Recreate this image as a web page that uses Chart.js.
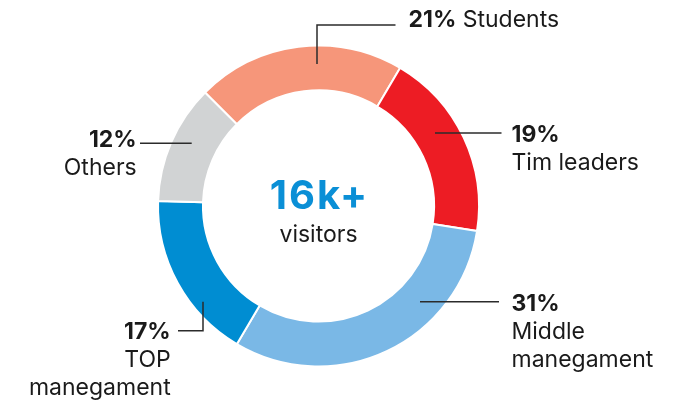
<!DOCTYPE html>
<html>
<head>
<meta charset="utf-8">
<script src="https://cdn.jsdelivr.net/npm/chart.js@4/dist/chart.umd.min.js"></script>
<style>
  html, body { margin: 0; padding: 0; background: #fff; }
  #wrap { width: 679px; height: 401px; position: relative; }
</style>
</head>
<body>
<div id="wrap"><canvas id="chart"></canvas></div>
<script>
const categories = ["Students", "Tim leaders", "Middle manegament", "TOP manegament", "Others"];
const shares = [21, 19, 31, 17, 12];
const labelLines = [
  ["Students"],
  ["Tim leaders"],
  ["Middle", "manegament"],
  ["TOP", "manegament"],
  ["Others"]
];
const centerValue = "16k+";
const centerCaption = "visitors";

const colors = ["#f6967a", "#ed1c24", "#7ab8e6", "#008dd2", "#d1d3d4"];

// leader lines + text, offsets from the ring centre
const layout = [
  { pts: [[-1.5, -142], [-1.5, -181], [77, -181]], x: 90, y: -179, align: "left", inline: true },
  { pts: [[116.5, -73], [183, -73]], x: 193, y: -63.7, align: "left" },
  { pts: [[101.5, 95.7], [180.5, 95.7]], x: 193, y: 104.7, align: "left" },
  { pts: [[-115.5, 95.7], [-115.5, 124.7], [-140.5, 124.7]], x: -147.8, y: 133, align: "right" },
  { pts: [[-126.8, -62.7], [-178.5, -62.7]], x: -181.8, y: -58.7, align: "right" }
];

const FONT = "Inter, 'Noto Sans', sans-serif";
const LINE_H = 28;

const labelsPlugin = {
  id: "labels",
  afterDraw(chart) {
    const ctx = chart.ctx;
    const arc = chart.getDatasetMeta(0).data[0];
    const cx = arc.x, cy = arc.y;
    ctx.save();
    ctx.strokeStyle = "#2b2b2b";
    ctx.lineWidth = 1.5;
    ctx.fillStyle = "#1a1a1a";
    ctx.textBaseline = "alphabetic";
    layout.forEach((l, i) => {
      ctx.beginPath();
      l.pts.forEach((p, j) => {
        if (j === 0) ctx.moveTo(cx + p[0], cy + p[1]);
        else ctx.lineTo(cx + p[0], cy + p[1]);
      });
      ctx.stroke();
      const pct = shares[i] + "%";
      const x = cx + l.x;
      let y = cy + l.y;
      if (l.inline) {
        ctx.textAlign = "left";
        ctx.font = "bold 23px " + FONT;
        ctx.fillText(pct, x, y);
        const w = ctx.measureText(pct).width;
        ctx.font = "23px " + FONT;
        ctx.fillText(" " + labelLines[i].join(" "), x + w, y);
        return;
      }
      ctx.textAlign = l.align;
      ctx.font = "bold 23px " + FONT;
      ctx.fillText(pct, x, y);
      ctx.font = "23px " + FONT;
      labelLines[i].forEach((t) => {
        y += LINE_H;
        ctx.fillText(t, x, y);
      });
    });
    // centre text
    ctx.textAlign = "center";
    ctx.fillStyle = "#0a8fd6";
    ctx.font = "bold 40px " + FONT;
    ctx.letterSpacing = "2px";
    ctx.fillText(centerValue, cx + 1, cy + 2.5);
    ctx.letterSpacing = "0px";
    ctx.fillStyle = "#1a1a1a";
    ctx.font = "23px " + FONT;
    ctx.fillText(centerCaption, cx, cy + 35.7);
    ctx.restore();
  }
};

new Chart(document.getElementById("chart"), {
  type: "doughnut",
  data: {
    labels: categories,
    datasets: [{
      data: shares,
      backgroundColor: colors,
      borderColor: "#ffffff",
      borderWidth: 2
    }]
  },
  options: {
    responsive: true,
    maintainAspectRatio: false,
    animation: false,
    rotation: -45,
    cutout: "72%",
    layout: { padding: { top: 44, bottom: 33, left: 157, right: 199 } },
    plugins: { legend: { display: false }, tooltip: { enabled: false } }
  },
  plugins: [labelsPlugin]
});
</script>
</body>
</html>
